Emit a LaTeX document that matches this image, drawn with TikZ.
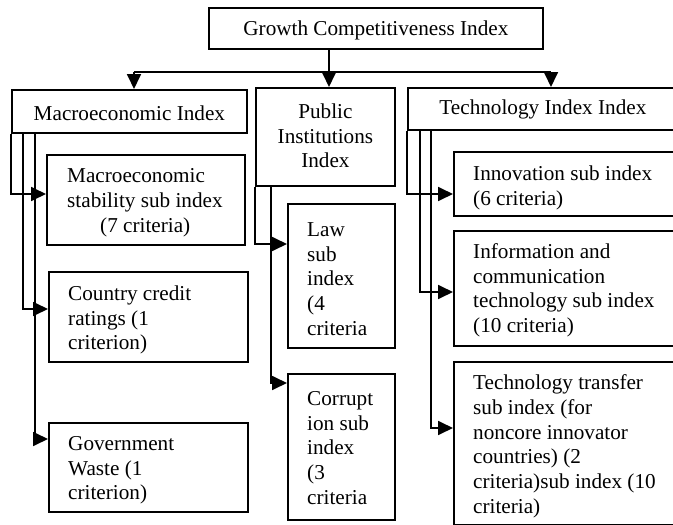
\documentclass[tikz,border=0pt]{standalone}
\usepackage{fontspec}
\setmainfont{Liberation Serif}
\usetikzlibrary{arrows.meta,calc}
\hyphenpenalty=10000
\exhyphenpenalty=10000
\newcommand\boxfont{\fontsize{21.2pt}{24.7pt}\selectfont}
\tikzset{
  box/.style={draw, line width=1.8pt, anchor=north west, inner sep=0pt},
  txt/.style={inner sep=0pt, align=left, anchor=west, font=\boxfont},
  ctxt/.style={inner sep=0pt, align=center, anchor=center, font=\boxfont},
  conn/.style={line width=1.8pt},
  arr/.style={conn, -{Triangle[length=15pt,width=14pt]}}
}
\begin{document}
\begin{tikzpicture}[x=1pt,y=-1pt]
\useasboundingbox (0,0) rectangle (673,525);
\fill[white] (0,0) rectangle (673,525);
\clip (0,0) rectangle (673,525);

% top
\node[box, minimum width=334pt, minimum height=41pt] (gci) at (208,7) {};
\node[ctxt] (gcit) at ($(gci.center)+(0,2)$) {Growth Competitiveness Index};

% second level
\node[box, minimum width=235pt, minimum height=43pt] (macro) at (11,89) {};
\node[ctxt] (macrot) at ($(macro.center)+(0,2)$) {Macroeconomic Index};
\node[box, minimum width=139pt, minimum height=98pt] (pub) at (255,87) {};
\node[ctxt] (pubt) at ($(pub.center)+(0,-1)$) {Public\\Institutions\\Index};
\node[box, minimum width=270pt, minimum height=42pt] (tech) at (407,87) {};
\node[ctxt] (techt) at ($(tech.center)+(0,1)$) {Technology Index Index};

% macro children
\node[box, minimum width=198pt, minimum height=90pt] (ms) at (46,154) {};
\node[txt] (mst) at ($(ms.west)+(21,3)$) {Macroeconomic\\stability sub index\\\hspace*{33pt}(7 criteria)};
\node[box, minimum width=199pt, minimum height=90pt] (cc) at (48,271) {};
\node[txt] (cct) at ($(cc.west)+(20,3)$) {Country credit\\ratings (1\\criterion)};
\node[box, minimum width=199pt, minimum height=89pt] (gw) at (48,422) {};
\node[txt] (gwt) at ($(gw.west)+(20,3)$) {Government\\Waste (1\\criterion)};

% public children
\node[box, minimum width=107pt, minimum height=144pt] (law) at (287,203) {};
\node[txt] (lawt) at ($(law.west)+(20,3)$) {Law\\sub\\index\\(4\\criteria};
\node[box, minimum width=107pt, minimum height=146pt] (cor) at (287,373) {};
\node[txt] (cort) at ($(cor.west)+(20,1)$) {Corrupt\\ion sub\\index\\(3\\criteria};

% technology children
\node[box, minimum width=237pt, minimum height=64pt] (inn) at (453,151) {};
\node[txt] (innt) at ($(inn.west)+(20,4)$) {Innovation sub index\\(6 criteria)};
\node[box, minimum width=237pt, minimum height=115pt] (ict) at (453,230) {};
\node[txt] (ictt) at ($(ict.west)+(20,2)$) {Information and\\communication\\technology sub index\\(10 criteria)};
\node[box, minimum width=237pt, minimum height=163pt] (tt) at (453,361) {};
\node[txt] (ttt) at ($(tt.west)+(20,3)$) {Technology transfer\\sub index (for\\noncore innovator\\countries) (2\\criteria)sub index (10\\criteria)};

% bus from top box
\coordinate (busL) at (134,72);
\coordinate (busM) at (329,72);
\coordinate (busR) at (551,72);
\draw[conn] (gci.south -| busM) -- (busM);
\draw[conn] (busL) -- (busR);
\draw[arr] (busL) -- (busL |- macro.north);
\draw[arr] (busM) -- (busM |- pub.north);
\draw[arr] (busR) -- (busR |- tech.north);

% macro connectors
\draw[arr] (macro.south west) |- ($(ms.north west)+(0,40)$);
\draw[arr] ($(macro.south west)+(12,0)$) |- ($(cc.north west)+(0,38)$);
\draw[arr] ($(macro.south west)+(24,0)$) |- ($(gw.north west)+(0,17)$);

% public connectors
\draw[arr] (pub.south west) |- ($(law.north west)+(0,41)$);
\draw[arr] ($(pub.south west)+(16,0)$) |- ($(cor.north west)+(0,10)$);

% technology connectors
\draw[arr] (tech.south west) |- ($(inn.north west)+(0,43)$);
\draw[arr] ($(tech.south west)+(13,0)$) |- ($(ict.north west)+(0,62)$);
\draw[arr] ($(tech.south west)+(24,0)$) |- ($(tt.north west)+(0,67)$);
\end{tikzpicture}
\end{document}
